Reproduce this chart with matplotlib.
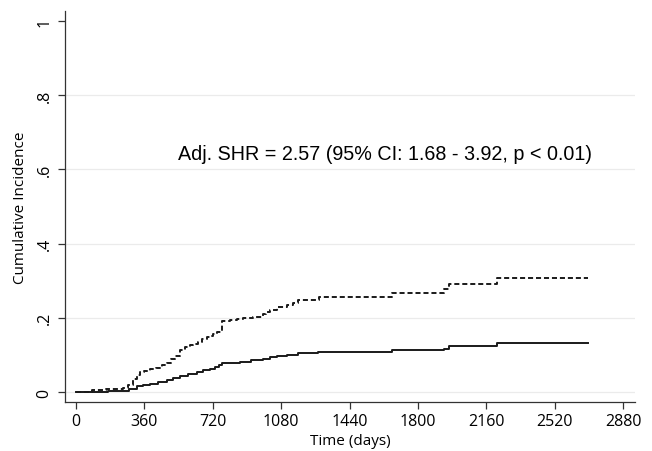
import numpy as np
import matplotlib
matplotlib.use("Agg")
import matplotlib.pyplot as plt

# cumulative incidence (days, value), step functions
t_dash = [0, 82, 160, 249, 275, 302, 320, 337, 360, 389, 420, 450, 477, 500, 520, 547,
          575, 600, 617, 640, 665, 690, 705, 723, 740, 767, 810, 845, 880, 930, 986,
          1000, 1021, 1060, 1109, 1140, 1170, 1281, 1661, 1937, 1963, 2216, 2695]
ci_dash = [0, 0.005, 0.007, 0.012, 0.020, 0.035, 0.045, 0.053, 0.057, 0.062, 0.066, 0.072,
           0.078, 0.088, 0.098, 0.112, 0.120, 0.126, 0.130, 0.136, 0.142, 0.148, 0.152,
           0.157, 0.163, 0.191, 0.193, 0.196, 0.199, 0.203, 0.209, 0.215, 0.222, 0.228,
           0.235, 0.240, 0.249, 0.256, 0.267, 0.278, 0.290, 0.307, 0.307]

t_solid = [0, 91, 170, 249, 280, 319, 350, 389, 430, 477, 510, 547, 590, 635, 670, 705,
           732, 750, 767, 810, 863, 920, 986, 1021, 1060, 1109, 1140, 1170, 1275, 1661,
           1937, 1963, 2216, 2695]
ci_solid = [0, 0.001, 0.002, 0.004, 0.009, 0.015, 0.019, 0.022, 0.026, 0.031, 0.037, 0.044,
            0.049, 0.053, 0.058, 0.062, 0.067, 0.072, 0.078, 0.079, 0.082, 0.085, 0.089,
            0.094, 0.097, 0.099, 0.101, 0.104, 0.107, 0.113, 0.116, 0.123, 0.132, 0.132]

xticks = [0, 360, 720, 1080, 1440, 1800, 2160, 2520, 2880]
yticks = [0, 0.2, 0.4, 0.6, 0.8, 1]
ytick_labels = ["0", ".2", ".4", ".6", ".8", "1"]
grid_y = [0, 0.2, 0.4, 0.6, 0.8]
annot = "Adj. SHR = 2.57 (95% CI: 1.68 - 3.92, p < 0.01)"

plt.rcParams["font.family"] = ["Open Sans", "DejaVu Sans"]

fig = plt.figure(figsize=(6.52, 4.52), dpi=100)
ax = fig.add_axes([65 / 652, 49 / 452, 570 / 652, 391 / 452])

for g in grid_y:
    ax.axhline(g, color="#ebebeb", lw=0.9, zorder=0)

ax.step(t_dash, ci_dash, where="post", color="#1a1a1a", lw=1.4, linestyle=(0, (2.6, 1.5)))
ax.step(t_solid, ci_solid, where="post", color="#1a1a1a", lw=1.4)

ax.set_xlim(-58, 2942)
ax.set_ylim(-0.027, 1.027)
ax.set_xticks(xticks)
ax.set_yticks(yticks)
ax.set_yticklabels(ytick_labels, rotation=90, va="center")

ax.spines["top"].set_visible(False)
ax.spines["right"].set_visible(False)
for s in ["left", "bottom"]:
    ax.spines[s].set_color("#333333")
    ax.spines[s].set_linewidth(0.9)
ax.tick_params(axis="both", length=5, width=0.9, color="#333333", labelsize=11.5)
ax.tick_params(axis="x", pad=3)
ax.tick_params(axis="y", pad=4)

ax.set_xlabel("Time (days)", fontsize=11, labelpad=3)
ax.set_ylabel("Cumulative Incidence", fontsize=11, labelpad=6)

ax.text(1626, 0.643, annot, fontsize=14.2, family="Liberation Sans", ha="center", va="center")

fig.savefig("out.png", dpi=100)
